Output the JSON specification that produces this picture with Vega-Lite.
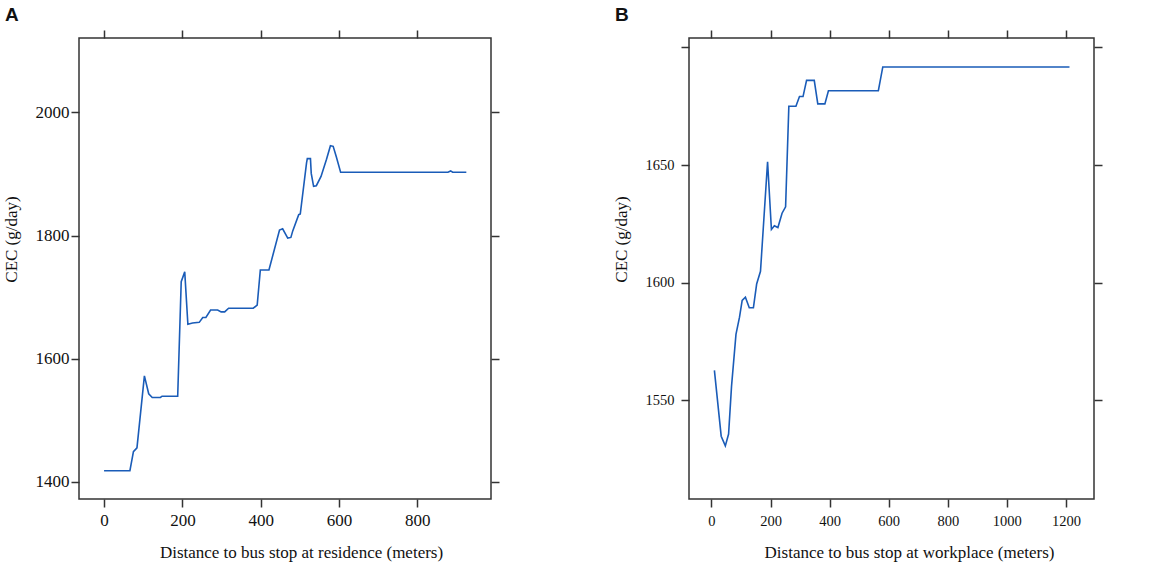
{
  "$schema": "https://vega.github.io/schema/vega-lite/v6.json",
  "padding": {"left": 1, "top": 5, "right": 5, "bottom": 3},
  "background": "white",
  "spacing": 110,
  "config": {
    "view": {"stroke": "#333333", "strokeWidth": 1.5},
    "axis": {
      "grid": false,
      "domain": false,
      "tickColor": "#333333",
      "tickWidth": 1.5,
      "tickSize": 8,
      "format": "d",
      "labelFont": "Liberation Serif",
      "labelFontSize": 17,
      "labelColor": "#111111",
      "titleFont": "Liberation Serif",
      "titleFontSize": 17,
      "titleFontWeight": "normal",
      "titleColor": "#111111"
    },
    "title": {
      "font": "Liberation Sans",
      "fontSize": 19,
      "fontWeight": "bold",
      "anchor": "start",
      "frame": "bounds",
      "color": "#111111",
      "offset": 4
    },
    "line": {"color": "#1a5cb8", "strokeWidth": 1.6}
  },
  "datasets": {
    "residence": [
      {"d": 0, "cec": 1418}, {"d": 66, "cec": 1418}, {"d": 75, "cec": 1449}, {"d": 84, "cec": 1455},
      {"d": 103, "cec": 1572}, {"d": 114, "cec": 1543}, {"d": 123, "cec": 1537}, {"d": 144, "cec": 1537},
      {"d": 148, "cec": 1539}, {"d": 188, "cec": 1539}, {"d": 197, "cec": 1725}, {"d": 206, "cec": 1741},
      {"d": 214, "cec": 1656}, {"d": 226, "cec": 1658}, {"d": 243, "cec": 1659}, {"d": 252, "cec": 1667},
      {"d": 260, "cec": 1667}, {"d": 272, "cec": 1679}, {"d": 290, "cec": 1679}, {"d": 299, "cec": 1676},
      {"d": 308, "cec": 1676}, {"d": 318, "cec": 1682}, {"d": 381, "cec": 1682}, {"d": 391, "cec": 1687},
      {"d": 399, "cec": 1744}, {"d": 421, "cec": 1744}, {"d": 448, "cec": 1809}, {"d": 456, "cec": 1811},
      {"d": 469, "cec": 1796}, {"d": 477, "cec": 1797}, {"d": 482, "cec": 1808}, {"d": 497, "cec": 1834},
      {"d": 501, "cec": 1835}, {"d": 517, "cec": 1918}, {"d": 519, "cec": 1925}, {"d": 527, "cec": 1925},
      {"d": 529, "cec": 1901}, {"d": 535, "cec": 1880}, {"d": 542, "cec": 1881}, {"d": 554, "cec": 1896},
      {"d": 568, "cec": 1924}, {"d": 578, "cec": 1946}, {"d": 585, "cec": 1945}, {"d": 593, "cec": 1928},
      {"d": 604, "cec": 1903}, {"d": 878, "cec": 1903}, {"d": 885, "cec": 1905}, {"d": 890, "cec": 1903},
      {"d": 925, "cec": 1903}
    ],
    "workplace": [
      {"d": 10, "cec": 1562.7}, {"d": 33, "cec": 1534.7}, {"d": 47, "cec": 1530.6}, {"d": 58, "cec": 1535.6},
      {"d": 68, "cec": 1556}, {"d": 83, "cec": 1578}, {"d": 95, "cec": 1585.3}, {"d": 104, "cec": 1592.4},
      {"d": 115, "cec": 1593.8}, {"d": 128, "cec": 1589.3}, {"d": 142, "cec": 1589.3}, {"d": 153, "cec": 1599.4},
      {"d": 166, "cec": 1604.8}, {"d": 190, "cec": 1651.4}, {"d": 203, "cec": 1622.6}, {"d": 213, "cec": 1624.2},
      {"d": 225, "cec": 1623.4}, {"d": 239, "cec": 1629.5}, {"d": 251, "cec": 1632.2}, {"d": 262, "cec": 1675},
      {"d": 286, "cec": 1675}, {"d": 298, "cec": 1679.1}, {"d": 310, "cec": 1679.1}, {"d": 322, "cec": 1686},
      {"d": 348, "cec": 1686}, {"d": 360, "cec": 1676}, {"d": 384, "cec": 1676}, {"d": 396, "cec": 1681.6},
      {"d": 565, "cec": 1681.6}, {"d": 580, "cec": 1691.7}, {"d": 1212, "cec": 1691.7}
    ]
  },
  "hconcat": [
    {
      "title": {"text": "A", "dx": 3},
      "width": 412,
      "height": 461,
      "data": {"name": "residence"},
      "layer": [
        {
          "mark": {"type": "line"},
          "encoding": {
            "x": {
              "field": "d", "type": "quantitative",
              "scale": {"domain": [-64, 988], "nice": false, "zero": false},
              "axis": {"orient": "bottom", "values": [0, 200, 400, 600, 800], "title": "Distance to bus stop at residence (meters)", "labelPadding": 5, "titlePadding": 16, "titleX": 222}
            },
            "y": {
              "field": "cec", "type": "quantitative",
              "scale": {"domain": [1372, 2121], "nice": false, "zero": false},
              "axis": {"orient": "left", "values": [1400, 1600, 1800, 2000], "title": "CEC (g/day)", "labelPadding": 2, "titlePadding": 15, "titleY": 201}
            }
          }
        },
        {
          "mark": {"type": "line", "opacity": 0},
          "encoding": {
            "x": {"field": "d", "type": "quantitative", "axis": {"orient": "top", "values": [0, 200, 400, 600, 800], "labels": false, "title": null}},
            "y": {"field": "cec", "type": "quantitative", "axis": {"orient": "right", "values": [1400, 1600, 1800, 2000], "labels": false, "title": null}}
          }
        }
      ],
      "resolve": {"axis": {"x": "independent", "y": "independent"}}
    },
    {
      "title": {"text": "B", "dx": 3},
      "width": 405,
      "height": 461,
      "data": {"name": "workplace"},
      "layer": [
        {
          "mark": {"type": "line"},
          "encoding": {
            "x": {
              "field": "d", "type": "quantitative",
              "scale": {"domain": [-76, 1295], "nice": false, "zero": false},
              "axis": {"orient": "bottom", "values": [0, 200, 400, 600, 800, 1000, 1200], "title": "Distance to bus stop at workplace (meters)", "labelFontSize": 14.5, "labelPadding": 7, "titlePadding": 17, "titleX": 220}
            },
            "y": {
              "field": "cec", "type": "quantitative",
              "scale": {"domain": [1508, 1704], "nice": false, "zero": false},
              "axis": {"orient": "left", "values": [1550, 1600, 1650, 1700], "labelExpr": "datum.value == 1700 ? '' : datum.label", "title": "CEC (g/day)", "labelFontSize": 14.5, "labelPadding": 7, "titlePadding": 15, "titleY": 201}
            }
          }
        },
        {
          "mark": {"type": "line", "opacity": 0},
          "encoding": {
            "x": {"field": "d", "type": "quantitative", "axis": {"orient": "top", "values": [0, 200, 400, 600, 800, 1000, 1200], "labels": false, "title": null}},
            "y": {"field": "cec", "type": "quantitative", "axis": {"orient": "right", "values": [1550, 1600, 1650, 1700], "labels": false, "title": null}}
          }
        }
      ],
      "resolve": {"axis": {"x": "independent", "y": "independent"}}
    }
  ]
}
